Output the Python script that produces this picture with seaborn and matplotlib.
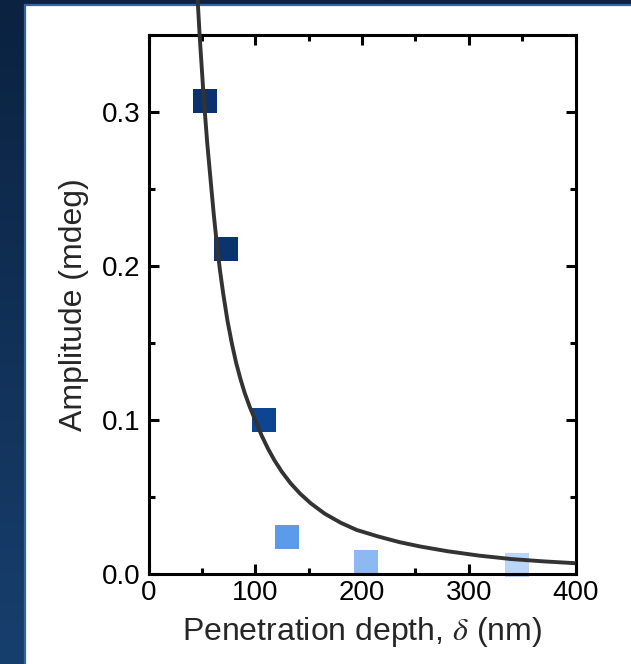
import numpy as np
import pandas as pd
import matplotlib
matplotlib.use("Agg")
import matplotlib.pyplot as plt
from matplotlib.colors import LinearSegmentedColormap
from matplotlib.patches import Rectangle
from matplotlib.ticker import MultipleLocator, FormatStrFormatter
import seaborn as sns

# Measured amplitude versus penetration depth
depth_nm = [53, 73, 108, 130, 204, 345]
amplitude_mdeg = [0.307, 0.211, 0.100, 0.024, 0.008, 0.006]
point_ids = ["p1", "p2", "p3", "p4", "p5", "p6"]
point_colors = ["#0b326c", "#0b346f", "#0d4592", "#5b9bea", "#8cb9f1", "#b9d6f7"]

# Fitted decay curve (depth, amplitude)
fit_depth = [44.5, 48, 51.5, 55, 58, 61, 64, 67, 70, 74, 78, 82, 86, 90, 95,
             100, 106, 112, 118, 125, 133, 142, 152, 165, 180, 195, 215, 235,
             255, 280, 310, 340, 370, 400]
fit_amplitude = [0.392, 0.3486, 0.3116, 0.280, 0.2571, 0.2345, 0.2142, 0.1970,
                 0.1820, 0.1644, 0.1500, 0.1374, 0.1270, 0.1178, 0.1082, 0.1000,
                 0.0899, 0.0813, 0.0738, 0.0663, 0.0590, 0.0522, 0.0459, 0.0392,
                 0.0333, 0.0286, 0.0244, 0.0207, 0.0178, 0.0148, 0.0119, 0.0097,
                 0.0082, 0.0070]

x_ticks = [0, 100, 200, 300, 400]
y_ticks = [0.0, 0.1, 0.2, 0.3]

sns.set_style("ticks")
plt.rcParams["font.family"] = ["Liberation Sans", "DejaVu Sans"]
plt.rcParams["mathtext.fontset"] = "stix"

W, H = 631, 664
fig = plt.figure(figsize=(W / 100, H / 100), dpi=100)

# Slide-style backdrop: navy gradient with a white panel
bg = fig.add_axes([0, 0, 1, 1], zorder=-10)
grad_cmap = LinearSegmentedColormap.from_list("navy", ["#0b2240", "#173f6e"])
bg.imshow(np.linspace(0, 1, 256).reshape(-1, 1), cmap=grad_cmap, aspect="auto",
          extent=[0, W, H, 0])
bg.add_patch(Rectangle((25, 5), W, H, facecolor="white", edgecolor="#3b62a0",
                       linewidth=1.6))
bg.set_xlim(0, W)
bg.set_ylim(H, 0)
bg.axis("off")

left, right, top, bottom = 148.5, 575.5, 35, 574
ax = fig.add_axes([left / W, 1 - bottom / H, (right - left) / W, (bottom - top) / H])
ax.set_facecolor("none")

df = pd.DataFrame({"depth": depth_nm, "amp": amplitude_mdeg, "pid": point_ids})
sns.scatterplot(data=df, x="depth", y="amp", hue="pid",
                palette=dict(zip(point_ids, point_colors)), marker="s", s=300,
                linewidth=0, legend=False, ax=ax, zorder=2, clip_on=False)

fit_df = pd.DataFrame({"depth": fit_depth, "amp": fit_amplitude})
sns.lineplot(data=fit_df, x="depth", y="amp", sort=False, color="#333333",
             linewidth=2.8, ax=ax, zorder=3, clip_on=False,
             solid_joinstyle="round", solid_capstyle="butt")

ax.set_xlim(0, 400)
ax.set_ylim(0, 0.35)
ax.set_xticks(x_ticks)
ax.set_yticks(y_ticks)
ax.xaxis.set_minor_locator(MultipleLocator(50))
ax.yaxis.set_minor_locator(MultipleLocator(0.05))
ax.yaxis.set_major_formatter(FormatStrFormatter("%.1f"))

for side in ["left", "right", "top", "bottom"]:
    ax.spines[side].set_visible(True)
    ax.spines[side].set_linewidth(2.2)
    ax.spines[side].set_color("black")

ax.tick_params(which="both", direction="in", top=True, right=True,
               width=2.2, color="black", labelsize=20, labelcolor="black")
ax.tick_params(which="major", length=7.5)
ax.tick_params(which="minor", length=4)
ax.tick_params(axis="x", which="major", pad=4)
ax.tick_params(axis="y", which="major", pad=6)

ax.set_xlabel(r"Penetration depth, $\delta$ (nm)", fontsize=23, labelpad=7)
ax.set_ylabel("Amplitude (mdeg)", fontsize=23, labelpad=9)

fig.savefig("out.png", dpi=100)
